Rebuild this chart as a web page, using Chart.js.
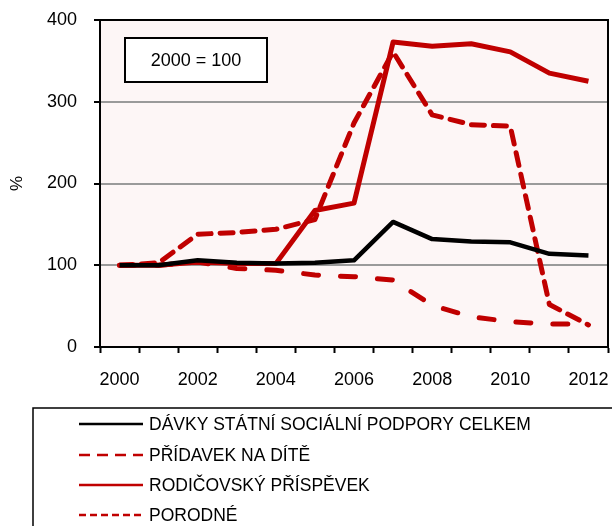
<!DOCTYPE html>
<html>
<head>
<meta charset="utf-8">
<script src="https://cdn.jsdelivr.net/npm/chart.js@4"></script>
<style>
  html, body { margin: 0; padding: 0; background: #fff; }
  #wrap { width: 612px; height: 526px; }
</style>
</head>
<body>
<div id="wrap"><canvas id="grafica" width="612" height="526"></canvas></div>
<script>
// Datos de la gráfica (2000 = 100)
var roky = ["2000", "2001", "2002", "2003", "2004", "2005", "2006", "2007", "2008", "2009", "2010", "2011", "2012"];
var davkyCelkem = [100, 100, 106, 103, 102, 103, 106, 153, 132, 129, 128, 114, 112];
var pridavek = [100, 100, 104, 96, 94, 88, 86, 82, 51, 37, 31, 28, 28];
var rodicovsky = [100, 100, 104, 102, 102, 167, 176, 373, 368, 371, 361, 335, 325];
var porodne = [100, 103, 138, 140, 144, 156, 274, 361, 284, 272, 270, 52, 27];
var yTicks = [0, 100, 200, 300, 400];

var fontName = "'Liberation Sans', Arial, sans-serif";
var cervena = '#C00000';

// Fondo del área de la gráfica, marco, recuadro "2000 = 100" y leyenda
var pluginFondo = {
    id: 'fondo',
    beforeDraw: function (chart) {
        var a = chart.chartArea, ctx = chart.ctx;
        ctx.save();
        ctx.fillStyle = '#FDF6F6';
        ctx.fillRect(a.left, a.top, a.right - a.left, a.bottom - a.top);
        ctx.restore();
    },
    afterDraw: function (chart) {
        var a = chart.chartArea, ctx = chart.ctx;
        ctx.save();
        // marco
        ctx.strokeStyle = '#000';
        ctx.lineWidth = 2;
        ctx.strokeRect(a.left, a.top, a.right - a.left, a.bottom - a.top);
        // recuadro
        ctx.lineWidth = 2;
        ctx.fillStyle = '#fff';
        ctx.fillRect(125, 38, 142, 44);
        ctx.strokeRect(125, 38, 142, 44);
        ctx.fillStyle = '#000';
        ctx.font = '18px ' + fontName;
        ctx.textAlign = 'center';
        ctx.textBaseline = 'middle';
        ctx.fillText('2000 = 100', 196, 61);
        // leyenda
        ctx.lineWidth = 1.5;
        ctx.strokeRect(33, 408, 600, 140);
        var filas = [424, 455, 485, 515];
        ctx.font = '17.5px ' + fontName;
        ctx.textAlign = 'left';
        chart.data.datasets.forEach(function (ds, i) {
            var y = filas[i];
            ctx.beginPath();
            ctx.strokeStyle = ds.borderColor;
            ctx.lineWidth = 2.5;
            ctx.setLineDash(ds.legendDash || []);
            ctx.lineCap = 'butt';
            ctx.moveTo(79, y);
            ctx.lineTo(143, y);
            ctx.stroke();
            ctx.setLineDash([]);
            ctx.fillStyle = '#000';
            ctx.fillText(ds.label, 149, y + 1);
        });
        ctx.restore();
    }
};

var ctx = document.getElementById('grafica').getContext('2d');
var grafica = new Chart(ctx, {
    type: 'line',
    data: {
        labels: roky,
        datasets: [{
            label: 'DÁVKY STÁTNÍ SOCIÁLNÍ PODPORY CELKEM',
            data: davkyCelkem,
            borderColor: '#000',
            borderWidth: 4.5,
            legendDash: []
        }, {
            label: 'PŘÍDAVEK NA DÍTĚ',
            data: pridavek,
            borderColor: cervena,
            borderWidth: 5,
            borderDash: [15, 22],
            borderCapStyle: 'round',
            legendDash: [11, 7]
        }, {
            label: 'RODIČOVSKÝ PŘÍSPĚVEK',
            data: rodicovsky,
            borderColor: cervena,
            borderWidth: 5,
            legendDash: []
        }, {
            label: 'PORODNÉ',
            data: porodne,
            borderColor: cervena,
            borderWidth: 5,
            borderDash: [13, 9],
            borderCapStyle: 'round',
            legendDash: [7, 4]
        }]
    },
    options: {
        responsive: false,
        animation: false,
        events: [],
        elements: {
            point: { radius: 0 },
            line: { tension: 0, borderJoinStyle: 'round' }
        },
        layout: {
            padding: { top: 20, right: 4, bottom: 129, left: 0 }
        },
        plugins: {
            legend: { display: false },
            tooltip: { enabled: false }
        },
        scales: {
            x: {
                offset: true,
                grid: {
                    offset: true,
                    drawOnChartArea: false,
                    tickColor: '#000',
                    tickLength: 6,
                    tickWidth: 2
                },
                border: { color: '#000', width: 2 },
                ticks: {
                    autoSkip: false,
                    maxRotation: 0,
                    padding: 16,
                    color: '#000',
                    font: { family: fontName, size: 18 },
                    callback: function (v, i) { return i % 2 === 0 ? roky[i] : ''; }
                },
                afterFit: function (s) {
                    s.height = 50;
                    s.paddingLeft = 0;
                    s.paddingRight = 0;
                }
            },
            y: {
                min: 0,
                max: 400,
                afterBuildTicks: function (s) {
                    s.ticks = yTicks.map(function (v) { return { value: v }; });
                },
                grid: {
                    color: '#9A9A9A',
                    lineWidth: 2,
                    tickColor: '#000',
                    tickLength: 6,
                    tickWidth: 2
                },
                border: { color: '#000', width: 2 },
                ticks: {
                    padding: 17,
                    color: '#000',
                    font: { family: fontName, size: 18 }
                },
                title: {
                    display: true,
                    text: '%',
                    color: '#000',
                    font: { family: fontName, size: 17 },
                    padding: { top: 7, bottom: 0 }
                },
                afterFit: function (s) {
                    s.width = 100;
                    s.paddingTop = 0;
                    s.paddingBottom = 0;
                }
            }
        }
    },
    plugins: [pluginFondo]
});
</script>
</body>
</html>
